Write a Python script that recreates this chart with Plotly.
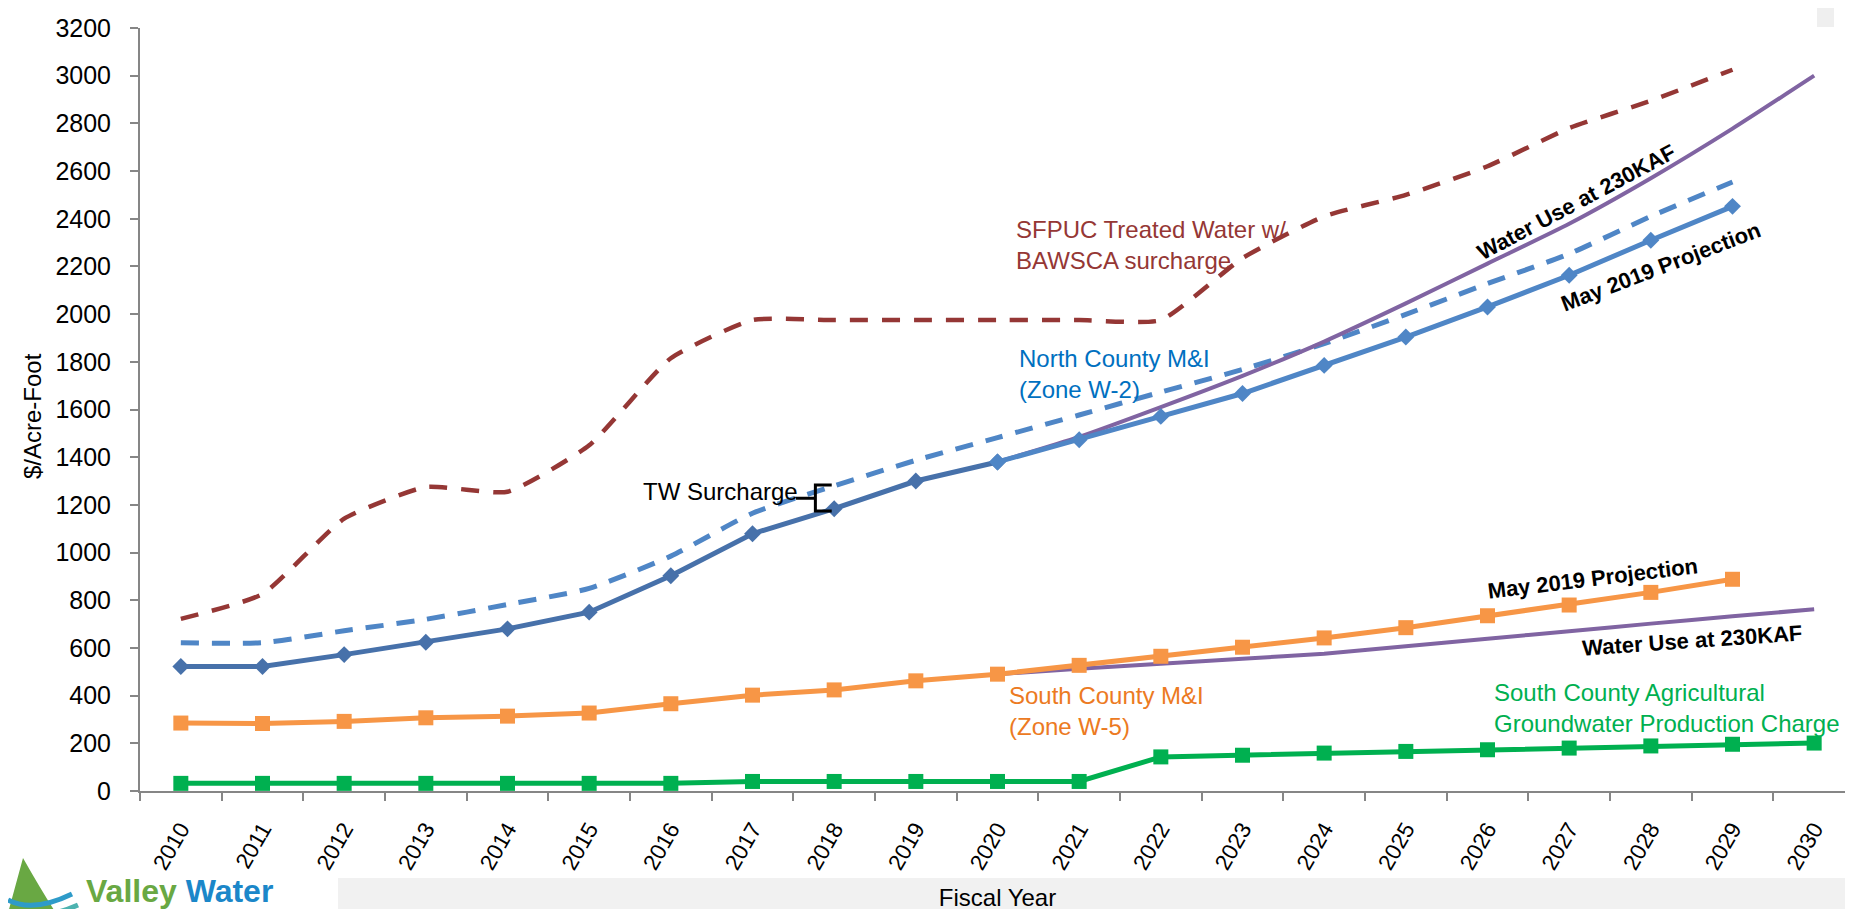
import plotly.graph_objects as go

# ---------------- data ----------------
years = list(range(2010, 2031))
tick_labels = [str(y) for y in years]

sfpuc_years = list(range(2010, 2030))
sfpuc = [722, 826, 1142, 1275, 1255, 1450, 1815, 1975, 1975, 1975,
         1975, 1975, 1975, 2235, 2410, 2500, 2620, 2780, 2895, 3025]

north_tw_years = list(range(2010, 2030))
north_tw = [622, 622, 672, 720, 782, 850, 985, 1165, 1280, 1387,
            1482, 1577, 1673, 1768, 1876, 1999, 2128, 2253, 2410, 2554]

north_hist_years = list(range(2010, 2021))
north_hist = [522, 522, 572, 624, 680, 750, 903, 1079, 1184, 1300, 1380]

north_proj_years = list(range(2020, 2030))
north_proj = [1380, 1473, 1571, 1667, 1785, 1904, 2030, 2163, 2310, 2452]

north_230_years = list(range(2020, 2031))
north_230 = [1380, 1485, 1610, 1741, 1885, 2045, 2212, 2379, 2570, 2778, 3000]

south_years = list(range(2010, 2030))
south = [285, 283, 292, 307, 314, 327, 366, 402, 424, 462,
         490, 527, 565, 603, 642, 685, 735, 780, 833, 888]

south_230_years = list(range(2020, 2031))
south_230 = [490, 513, 534, 555, 576, 607, 639, 670, 702, 733, 762]

ag_years = list(range(2010, 2031))
ag = [32, 32, 32, 32, 32, 32, 32, 40, 40, 40, 40, 40,
      143, 150, 159, 166, 173, 180, 189, 196, 201]

# ---------------- style ----------------
W, H = 1853, 909
ML, MR, MT, MB = 132, 6, 20, 126
PW, PH = W - ML - MR, H - MT - MB

RED = "#953735"
BLUE_D = "#4F86C6"
BLUE_H = "#4771AA"
BLUE_P = "#4F86C6"
PURPLE = "#8064A2"
ORANGE = "#F79646"
GREEN = "#00B050"
AXIS = "#868686"
SANS = "Liberation Sans, Arial, sans-serif"


def px(x):
    return (x - ML) / PW


def py(y):
    return (H - MB - y) / PH


fig = go.Figure()

fig.add_trace(go.Scatter(x=sfpuc_years, y=sfpuc, mode="lines",
                         line=dict(color=RED, width=4.5, dash="18px,14px",
                                   shape="spline", smoothing=0.5),
                         name="SFPUC"))
fig.add_trace(go.Scatter(x=north_tw_years, y=north_tw, mode="lines",
                         line=dict(color=BLUE_D, width=5, dash="18px,13px",
                                   shape="spline", smoothing=0.6),
                         name="North County + TW"))
fig.add_trace(go.Scatter(x=north_230_years, y=north_230, mode="lines",
                         line=dict(color=PURPLE, width=4, shape="spline", smoothing=0.6),
                         name="North 230KAF"))
fig.add_trace(go.Scatter(x=south_230_years, y=south_230, mode="lines",
                         line=dict(color=PURPLE, width=4, shape="spline", smoothing=0.6),
                         name="South 230KAF"))
fig.add_trace(go.Scatter(x=north_hist_years, y=north_hist, mode="lines+markers",
                         line=dict(color=BLUE_H, width=5),
                         marker=dict(symbol="diamond", size=13, color=BLUE_H),
                         name="North County hist"))
fig.add_trace(go.Scatter(x=north_proj_years, y=north_proj, mode="lines+markers",
                         line=dict(color=BLUE_P, width=5),
                         marker=dict(symbol="diamond", size=13, color=BLUE_P),
                         name="North County proj"))
fig.add_trace(go.Scatter(x=south_years, y=south, mode="lines+markers",
                         line=dict(color=ORANGE, width=5),
                         marker=dict(symbol="square", size=15, color=ORANGE),
                         name="South County"))
fig.add_trace(go.Scatter(x=ag_years, y=ag, mode="lines+markers",
                         line=dict(color=GREEN, width=5),
                         marker=dict(symbol="square", size=15, color=GREEN),
                         name="Ag"))

annotations = [
    dict(x=2020.2, y=2290, text="SFPUC Treated Water w/<br>BAWSCA surcharge",
         font=dict(family=SANS, size=24, color=RED), align="left"),
    dict(x=2020.24, y=1750, text="North County M&I<br>(Zone W-2)",
         font=dict(family=SANS, size=24, color="#0070C0"), align="left"),
    dict(x=2015.64, y=1258, text="TW Surcharge",
         font=dict(family=SANS, size=24, color="black"), align="left"),
    dict(x=2020.12, y=337, text="South County M&I<br>(Zone W-5)",
         font=dict(family=SANS, size=24, color="#EC7A22"), align="left"),
    dict(x=2026.05, y=350, text="South County Agricultural<br>Groundwater Production Charge",
         font=dict(family=SANS, size=24, color=GREEN), align="left"),
]
for a in annotations:
    a.update(xref="x", yref="y", xanchor="left", yanchor="middle", showarrow=False)

rot_labels = [
    (2027.08, 2470, "Water Use at 230KAF", -28),
    (2028.13, 2200, "May 2019 Projection", -21),
    (2027.29, 893, "May 2019 Projection", -7),
    (2028.51, 632, "Water Use at 230KAF", -4),
]
for x, y, t, ang in rot_labels:
    annotations.append(dict(x=x, y=y, xref="x", yref="y", text="<b>" + t + "</b>",
                            textangle=ang, showarrow=False, xanchor="center", yanchor="middle",
                            font=dict(family=SANS, size=22, color="black")))

# y-axis title
annotations.append(dict(x=px(25), y=py(408), xref="paper", yref="paper", text="$/Acre-Foot",
                        textangle=-90, showarrow=False, xanchor="center", yanchor="middle",
                        font=dict(family=SANS, size=24, color="black")))

# logo text
annotations.append(dict(
    x=px(76), y=py(903), xref="paper", yref="paper", xanchor="left", yanchor="bottom",
    showarrow=False,
    text="<b><span style='color:#69A843'>Valley</span> <span style='color:#1B87C9'>Water</span></b>",
    font=dict(family=SANS, size=32)))

shapes = [
    # bottom hatched band
    dict(type="rect", xref="paper", yref="paper", x0=px(330), x1=px(W), y0=py(H), y1=py(870),
         fillcolor="#F1F1F1", line=dict(width=0), layer="below"),
    # top-right small block
    dict(type="rect", xref="paper", yref="paper", x0=px(1809), x1=px(1826), y0=py(19), y1=py(0),
         fillcolor="#EFEFEF", line=dict(width=0), layer="below"),
    # TW surcharge bracket
    dict(type="path", xref="x", yref="y",
         path="M 2017.97,1283 L 2017.77,1283 L 2017.77,1174 L 2017.97,1174 "
              "M 2017.77,1228 L 2017.53,1228",
         line=dict(color="black", width=3)),
    # logo leaf
    dict(type="path", xref="paper", yref="paper",
         path=f"M {px(0)},{py(905)} L {px(15)},{py(850)} Q {px(32)},{py(880)} {px(46)},{py(902)} Z",
         fillcolor="#69A843", line=dict(width=0)),
    # logo waves
    dict(type="path", xref="paper", yref="paper",
         path=f"M {px(0)},{py(892)} Q {px(25)},{py(905)} {px(64)},{py(886)}",
         line=dict(color="#2E9BC9", width=5)),
    dict(type="path", xref="paper", yref="paper",
         path=f"M {px(0)},{py(903)} Q {px(30)},{py(915)} {px(70)},{py(897)}",
         line=dict(color="#4DB3B0", width=5)),
]

fig.update_layout(
    width=W, height=H,
    margin=dict(l=ML, r=MR, t=MT, b=MB, autoexpand=False),
    plot_bgcolor="white", paper_bgcolor="white",
    showlegend=False,
    annotations=annotations,
    shapes=shapes,
    xaxis=dict(
        range=[2009.5, 2030.5], tickvals=years, ticktext=tick_labels, tickangle=-60,
        showline=True, linecolor=AXIS, linewidth=2, ticks="", showgrid=False, zeroline=False,
        tickfont=dict(family=SANS, size=22.5, color="black"), ticklabelstandoff=14,
        minor=dict(ticks="outside", tickvals=[y - 0.5 for y in years] + [years[-1] + 0.5],
                   ticklen=8, tickwidth=2, tickcolor=AXIS, showgrid=False),
        title=dict(text="Fiscal Year", font=dict(family=SANS, size=24, color="black"), standoff=16),
    ),
    yaxis=dict(
        range=[0, 3200], tick0=0, dtick=200, showline=True, linecolor=AXIS, linewidth=2,
        ticks="outside", ticklen=8, tickwidth=2, tickcolor=AXIS, showgrid=False, zeroline=False,
        tickfont=dict(family=SANS, size=25, color="black"), ticklabelstandoff=14,
    ),
)

fig.write_html("out.html")
